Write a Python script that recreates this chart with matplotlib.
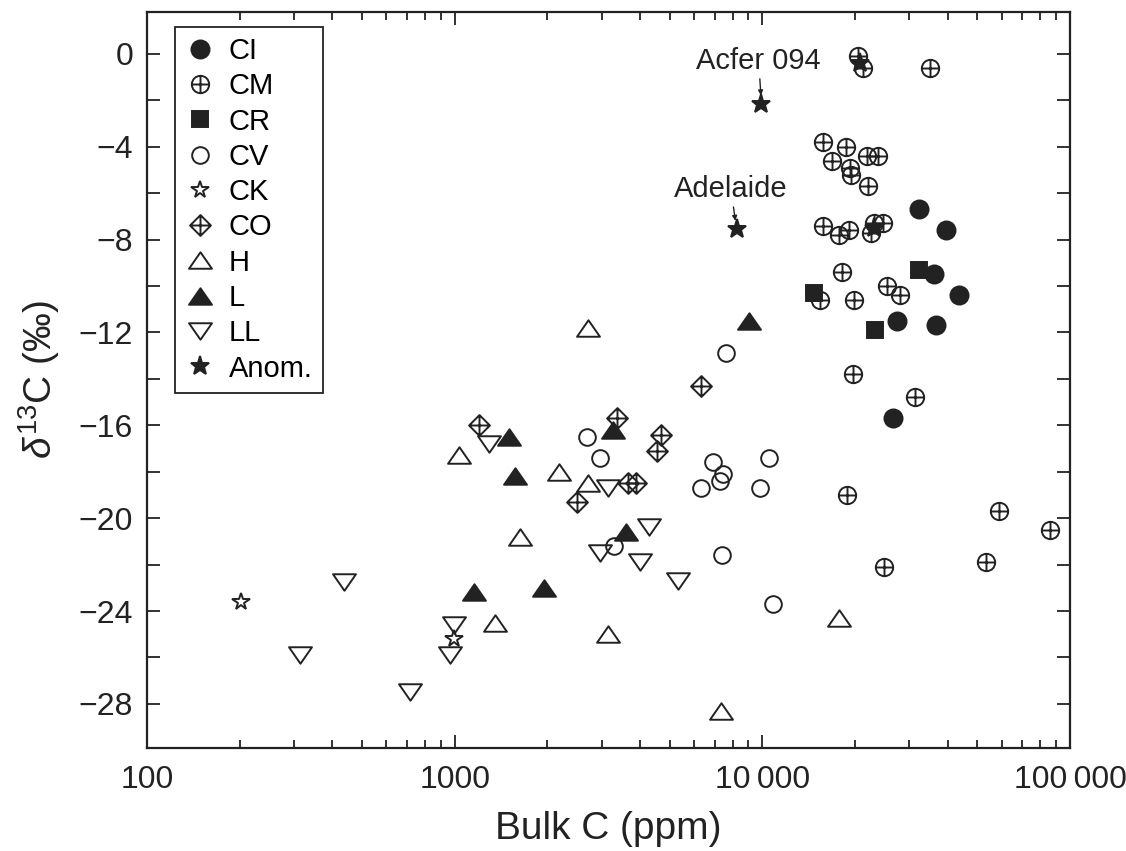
"""Bulk carbon vs delta-13C for chondrite groups."""

import matplotlib

matplotlib.use("Agg")
import matplotlib.pyplot as plt  # noqa: E402
from matplotlib.path import Path  # noqa: E402
from matplotlib.ticker import FuncFormatter, LogLocator, MultipleLocator, NullFormatter  # noqa: E402

plt.rcParams["font.family"] = ["Liberation Sans", "DejaVu Sans"]
plt.rcParams["mathtext.fontset"] = "custom"
plt.rcParams["mathtext.rm"] = "Liberation Sans"
plt.rcParams["mathtext.it"] = "Liberation Sans:italic"

INK = "#222222"

# bulk C (ppm) and d13C (permil) per group
ci_c = [32400, 39500, 36100, 43600, 27400, 36700, 26600]
ci_d = [-6.7, -7.6, -9.5, -10.4, -11.5, -11.7, -15.7]

cm_c = [20500, 21300, 35100, 15800, 18700, 16800, 19300, 19400, 21800, 23800,
        22100, 15800, 17700, 19150, 22600, 23100, 24700, 18200, 15400, 19900,
        25500, 28100, 19700, 31400, 18900, 24900, 58700, 53400, 86100]
cm_d = [-0.1, -0.6, -0.6, -3.8, -4.0, -4.6, -4.9, -5.2, -4.4, -4.4,
        -5.7, -7.4, -7.8, -7.6, -7.7, -7.3, -7.3, -9.4, -10.6, -10.6,
        -10.0, -10.4, -13.8, -14.8, -19.0, -22.1, -19.7, -21.9, -20.5]

cr_c = [32400, 14750, 23300]
cr_d = [-9.3, -10.3, -11.9]

cv_c = [7640, 2690, 2960, 6930, 7470, 7300, 6340, 10500, 9860, 3300, 7410, 10800]
cv_d = [-12.9, -16.5, -17.4, -17.6, -18.1, -18.4, -18.7, -17.4, -18.7, -21.2, -21.6, -23.7]

ck_c = [202, 993]
ck_d = [-23.6, -25.2]

co_c = [6340, 3380, 4700, 4560, 3650, 3880, 2490, 1197]
co_d = [-14.3, -15.7, -16.4, -17.1, -18.5, -18.5, -19.3, -16.0]

h_c = [2720, 1030, 1625, 1350, 2190, 2720, 17800, 7360, 3140]
h_d = [-11.8, -17.3, -20.8, -24.5, -18.0, -18.5, -24.3, -28.3, -25.0]

l_c = [9080, 1496, 1570, 1153, 3260, 3610, 1945]
l_d = [-11.5, -16.5, -18.2, -23.2, -16.2, -20.6, -23.0]

ll_c = [1290, 436, 314, 993, 964, 714, 3140, 4290, 2960, 3990, 5330]
ll_d = [-16.8, -22.75, -25.9, -24.6, -25.9, -27.5, -18.7, -20.4, -21.5, -21.9, -22.7]

anom_c = [9930, 8240, 20700, 23000]
anom_d = [-2.15, -7.55, -0.4, -7.5]

# custom marker shapes
cross = Path([(-1, 0), (1, 0), (0, -1), (0, 1)],
             [Path.MOVETO, Path.LINETO, Path.MOVETO, Path.LINETO])
CM_MARK = Path.make_compound_path(Path.unit_circle(), cross)
CO_MARK = Path.make_compound_path(
    Path([(0, 1), (1, 0), (0, -1), (-1, 0), (0, 1)], closed=True), cross)
UP = Path([(-1, -0.72), (1, -0.72), (0, 0.72), (-1, -0.72)], closed=True)
DOWN = Path([(-1, 0.72), (1, 0.72), (0, -0.72), (-1, 0.72)], closed=True)

SERIES = [
    ("CI", ci_c, ci_d, "o", 13, INK),
    ("CM", cm_c, cm_d, CM_MARK, 12.5, "none"),
    ("CR", cr_c, cr_d, "s", 12, INK),
    ("CV", cv_c, cv_d, "o", 12, "none"),
    ("CK", ck_c, ck_d, "*", 13, "none"),
    ("CO", co_c, co_d, CO_MARK, 15, "none"),
    ("H", h_c, h_d, UP, 16.5, "none"),
    ("L", l_c, l_d, UP, 16.5, INK),
    ("LL", ll_c, ll_d, DOWN, 16.5, "none"),
    ("Anom.", anom_c, anom_d, "*", 14, INK),
]


def main() -> None:
    fig = plt.figure(figsize=(11.26, 8.51), dpi=100)
    ax = fig.add_axes([0.1306, 0.121, 0.8197, 0.8649])

    for label, xs, ys, marker, size, face in SERIES:
        ax.plot(xs, ys, linestyle="none", marker=marker, markersize=size,
                markerfacecolor=face, markeredgecolor=INK, markeredgewidth=1.4,
                label=label)

    for name, idx, dx, dy in (("Acfer 094", 0, -2, 31), ("Adelaide", 1, -4, 29)):
        ax.annotate(name, (anom_c[idx], anom_d[idx]), xytext=(dx, dy),
                    textcoords="offset points", ha="center", va="center",
                    fontsize=21, color=INK,
                    arrowprops={"arrowstyle": "-|>", "color": INK, "lw": 1.0,
                                "mutation_scale": 7, "shrinkA": 1, "shrinkB": 6})

    ax.set_xscale("log")
    ax.set_xlim(100, 100000)
    ax.set_ylim(-29.9, 1.8)

    xlabels = {100: "100", 1000: "1000", 10000: "10\u2009000", 100000: "100\u2009000"}
    ax.xaxis.set_major_locator(LogLocator(base=10))
    ax.xaxis.set_minor_locator(LogLocator(base=10, subs=range(2, 10)))
    ax.xaxis.set_major_formatter(FuncFormatter(lambda v, _: xlabels.get(int(round(v)), "")))
    ax.xaxis.set_minor_formatter(NullFormatter())
    ax.yaxis.set_major_locator(MultipleLocator(4))
    ax.yaxis.set_minor_locator(MultipleLocator(2))
    ax.yaxis.set_major_formatter(FuncFormatter(lambda v, _: f"{v:.0f}".replace("-", "\u2212")))

    ax.tick_params(which="both", direction="in", top=True, right=True,
                   color=INK, width=1.3, labelsize=23, labelcolor=INK)
    ax.tick_params(axis="y", which="both", length=9.5, pad=10)
    ax.tick_params(axis="x", which="major", length=9.5, pad=12)
    ax.tick_params(axis="x", which="minor", length=6)
    for spine in ax.spines.values():
        spine.set_linewidth(1.6)
        spine.set_color(INK)

    ax.set_xlabel("Bulk C (ppm)", fontsize=28, color=INK, labelpad=12)
    ax.set_ylabel(r"$\delta^{13}$C (‰)", fontsize=28, color=INK, labelpad=12)

    legend = ax.legend(loc="upper left", bbox_to_anchor=(0.030, 0.980),
                       fontsize=21, frameon=True, fancybox=False, framealpha=1,
                       edgecolor=INK, handlelength=1.0, handletextpad=0.5,
                       labelspacing=0.25, borderpad=0.35, borderaxespad=0)
    legend.get_frame().set_linewidth(1.3)

    fig.savefig("out.png", dpi=100)
    plt.close(fig)


if __name__ == "__main__":
    main()
